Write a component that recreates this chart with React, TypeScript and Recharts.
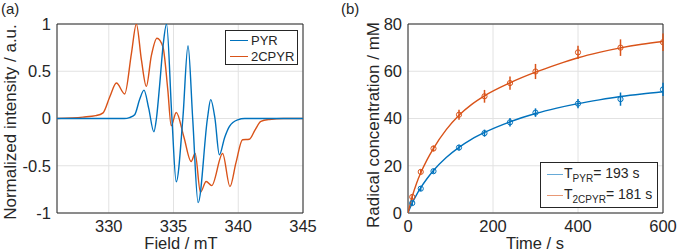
import React from 'react'
import {
  LineChart,
  ComposedChart,
  Line,
  Scatter,
  ErrorBar,
  XAxis,
  YAxis,
  CartesianGrid,
  ReferenceArea,
  Legend
} from 'recharts'

const FONT = '"Liberation Sans", Arial, Helvetica, sans-serif'
const BLUE = '#0072BD'
const ORANGE = '#D95319'
const GRID = '#e2e2e2'
const BOX = '#262626'

// (a) EPR spectra
const pyrField = [326, 330, 331.2, 331.6, 332.0, 332.38, 332.72, 333.08, 333.48, 333.68, 333.92, 334.2, 334.46, 334.87, 335.21, 335.72, 336.12, 336.48, 336.9, 337.62, 337.87, 338.2, 338.54, 338.95, 339.31, 339.95, 340.5, 345]
const pyrIntensity = [0, 0, 0, 0.01, 0.04, 0.2, 0.3, 0.11, -0.14, 0, 0.34, 0.78, 1, 0.02, -0.67, 0, 0.77, 0, -0.89, 0, 0.2, 0, -0.385, -0.2, -0.085, -0.014, 0, 0]
const cprField = [326, 328, 329, 329.56, 330.08, 330.59, 331.23, 331.75, 332.13, 332.52, 332.9, 333.28, 333.72, 334.18, 334.56, 334.82, 335.21, 335.79, 336.36, 336.67, 337.08, 337.52, 337.95, 338.79, 339.36, 339.82, 340.33, 340.85, 341.3, 341.75, 342.4, 343.5, 345]
const cprIntensity = [0, 0.015, 0.03, 0.06, 0.23, 0.375, 0.26, 0.69, 1, 0.62, 0.34, 0.66, 0.85, 0.76, 0.3, -0.077, 0.064, -0.19, -0.455, -0.37, -0.78, -0.667, -0.71, -0.37, -0.72, -0.47, -0.225, -0.22, -0.12, -0.03, -0.01, 0, 0]
const fieldTicks = [330, 335, 340, 345]
const intensityTicks = [-1, -0.5, 0, 0.5, 1]
const spectrumNames = ['PYR', '2CPYR']

// (b) radical concentration vs time
const times = [10, 30, 60, 120, 180, 240, 300, 400, 500, 600]
const pyrConc = [4.2, 10.3, 17.7, 27.7, 33.8, 38.4, 42.5, 46.3, 48.2, 52.3]
const pyrErr = [1, 1, 1, 1.2, 1.5, 1.8, 1.8, 2, 2.8, 2.8]
const cprConc = [6.8, 17.4, 27.3, 41.6, 49.4, 55, 59.9, 68, 70, 72.3]
const cprErr = [1, 1, 1.2, 2.1, 2.7, 2.8, 3.2, 2.8, 3.5, 3.7]
const fitTimes = [0, 5, 10, 20, 30, 45, 60, 90, 120, 150, 180, 240, 300, 350, 400, 450, 500, 550, 600]
const pyrFit = [0, 2.2, 4.3, 7.7, 10.7, 14.6, 18, 23.5, 27.8, 31.3, 34.1, 38.6, 42.1, 44.4, 46.3, 47.9, 49.3, 50.4, 51.3]
const cprFit = [0, 3.6, 7, 12.5, 17, 22.6, 27.4, 35.3, 41.4, 46, 49.6, 55.1, 59.6, 62.8, 65.7, 68, 69.9, 71.4, 72.6]
const timeTicks = [0, 200, 400, 600]
const concTicks = [0, 20, 40, 60, 80]
const fitLabels = [
  { sub: 'PYR', rest: '= 193 s' },
  { sub: '2CPYR', rest: '= 181 s' }
]

const pyrSpectrum = pyrField.map((field, i) => ({ field, v: pyrIntensity[i] }))
const cprSpectrum = cprField.map((field, i) => ({ field, v: cprIntensity[i] }))
const pyrPoints = times.map((t, i) => ({ t, c: pyrConc[i], err: pyrErr[i] }))
const cprPoints = times.map((t, i) => ({ t, c: cprConc[i], err: cprErr[i] }))
const pyrFitData = fitTimes.map((t, i) => ({ t, c: pyrFit[i] }))
const cprFitData = fitTimes.map((t, i) => ({ t, c: cprFit[i] }))

const tickStyle = { fill: BOX, fontSize: 16.5, fontFamily: FONT }

function SpectrumLegend () {
  const colors = [BLUE, ORANGE]
  return (
    <div style={{ boxSizing: 'border-box', width: 73, height: 35, border: `1px solid ${BOX}`, background: '#fff', padding: '1px 0 0 4px', fontFamily: FONT, fontSize: 13, color: BOX }}>
      {spectrumNames.map((name, i) => (
        <div key={name} style={{ display: 'flex', alignItems: 'center', height: 16 }}>
          <span style={{ width: 18, borderTop: `1.5px solid ${colors[i]}`, marginRight: 3 }} />
          <span>{name}</span>
        </div>
      ))}
    </div>
  )
}

function FitLegend () {
  const colors = [BLUE, ORANGE]
  return (
    <div style={{ boxSizing: 'border-box', width: 118, height: 46, border: `1px solid ${BOX}`, background: '#fff', padding: '1px 0 0 6px', fontFamily: FONT, fontSize: 14, color: BOX }}>
      {fitLabels.map((item, i) => (
        <div key={item.sub} style={{ display: 'flex', alignItems: 'center', height: 21, whiteSpace: 'nowrap' }}>
          <span style={{ width: 16, borderTop: `1px solid ${colors[i]}`, opacity: 0.6, marginRight: 1 }} />
          <span>T<sub style={{ fontSize: 10 }}>{item.sub}</sub>{item.rest}</span>
        </div>
      ))}
    </div>
  )
}

function OpenCircle (props: any) {
  const { cx, cy, fill } = props
  return <circle cx={cx} cy={cy} r={2.6} fill="none" stroke={fill} strokeWidth={1} />
}

const labelStyle: React.CSSProperties = {
  position: 'absolute',
  fontFamily: FONT,
  fontSize: 17,
  lineHeight: 1,
  color: BOX,
  whiteSpace: 'nowrap',
  transform: 'translate(-50%, -50%)'
}

export default function App () {
  return (
    <div style={{ position: 'absolute', left: 0, top: 0, width: 680, height: 252, background: '#fff' }}>
      <div style={{ position: 'absolute', left: 0, top: 0 }}>
        <LineChart width={340} height={252} margin={{ top: 24, right: 37, bottom: 0, left: 0 }}>
          <CartesianGrid stroke={GRID} />
          <XAxis
            type="number"
            dataKey="field"
            domain={[326, 345]}
            ticks={fieldTicks}
            allowDataOverflow
            height={39}
            tickSize={0}
            tickMargin={7}
            axisLine={false}
            tick={tickStyle}
          />
          <YAxis
            type="number"
            domain={[-1, 1]}
            ticks={intensityTicks}
            allowDataOverflow
            width={57}
            tickSize={0}
            tickMargin={6}
            axisLine={false}
            tick={tickStyle}
          />
          <Line data={cprSpectrum} dataKey="v" type="monotone" stroke={ORANGE} strokeWidth={1.4} dot={false} isAnimationActive={false} />
          <Line data={pyrSpectrum} dataKey="v" type="monotone" stroke={BLUE} strokeWidth={1.4} dot={false} isAnimationActive={false} />
          <ReferenceArea x1={326} x2={345} y1={-1} y2={1} fill="none" stroke={BOX} strokeWidth={1} />
          <Legend layout="vertical" align="center" verticalAlign="middle" wrapperStyle={{ left: 225, top: 30, width: 73, height: 35 }} content={() => <SpectrumLegend />} />
        </LineChart>
      </div>

      <div style={{ position: 'absolute', left: 340, top: 0 }}>
        <ComposedChart width={340} height={252} margin={{ top: 24, right: 17, bottom: 0, left: 0 }}>
          <CartesianGrid stroke={GRID} />
          <XAxis
            type="number"
            dataKey="t"
            domain={[0, 600]}
            ticks={timeTicks}
            allowDataOverflow
            height={39}
            tickSize={0}
            tickMargin={7}
            axisLine={false}
            tick={tickStyle}
          />
          <YAxis
            type="number"
            domain={[0, 80]}
            ticks={concTicks}
            allowDataOverflow
            width={68}
            tickSize={0}
            tickMargin={6}
            axisLine={false}
            tick={tickStyle}
          />
          <Line data={pyrFitData} dataKey="c" type="monotone" stroke={BLUE} strokeWidth={1.4} dot={false} isAnimationActive={false} />
          <Line data={cprFitData} dataKey="c" type="monotone" stroke={ORANGE} strokeWidth={1.4} dot={false} isAnimationActive={false} />
          <Scatter data={pyrPoints} dataKey="c" fill={BLUE} shape={<OpenCircle />} isAnimationActive={false}>
            <ErrorBar dataKey="err" direction="y" width={0} stroke={BLUE} strokeWidth={1.5} />
          </Scatter>
          <Scatter data={cprPoints} dataKey="c" fill={ORANGE} shape={<OpenCircle />} isAnimationActive={false}>
            <ErrorBar dataKey="err" direction="y" width={0} stroke={ORANGE} strokeWidth={1.5} />
          </Scatter>
          <ReferenceArea x1={0} x2={600} y1={0} y2={80} fill="none" stroke={BOX} strokeWidth={1} />
          <Legend layout="vertical" align="center" verticalAlign="middle" wrapperStyle={{ left: 200, top: 162, width: 118, height: 46 }} content={() => <FitLegend />} />
        </ComposedChart>
      </div>

      <div style={{ ...labelStyle, left: 1, top: 8, transform: 'translateY(-50%)', fontSize: 15 }}>(a)</div>
      <div style={{ ...labelStyle, left: 341, top: 8, transform: 'translateY(-50%)', fontSize: 15 }}>(b)</div>
      <div style={{ ...labelStyle, left: 10, top: 122, transform: 'translate(-50%, -50%) rotate(-90deg)' }}>Normalized intensity / a.u.</div>
      <div style={{ ...labelStyle, left: 373, top: 125, transform: 'translate(-50%, -50%) rotate(-90deg)' }}>Radical concentration / mM</div>
      <div style={{ ...labelStyle, left: 181, top: 243, fontSize: 16.5 }}>Field / mT</div>
      <div style={{ ...labelStyle, left: 535, top: 243, fontSize: 16.5 }}>Time / s</div>
    </div>
  )
}
